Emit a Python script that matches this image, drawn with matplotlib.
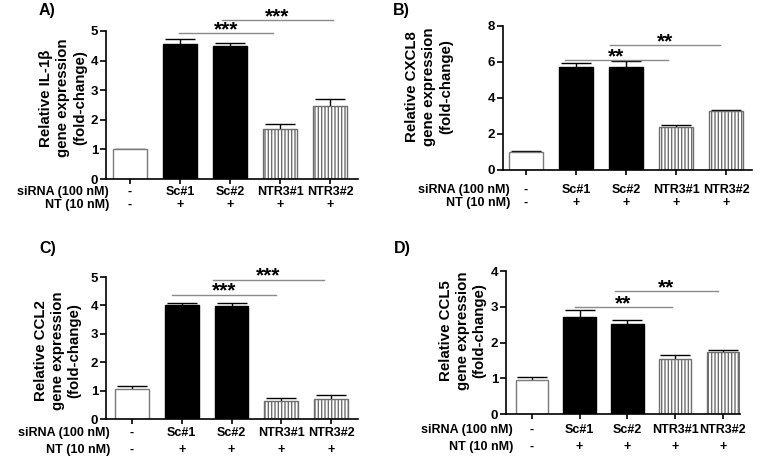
import matplotlib
matplotlib.use("Agg")
import matplotlib.pyplot as plt
import matplotlib.transforms as mtransforms
import numpy as np

plt.rcParams['font.family'] = ['Liberation Sans', 'DejaVu Sans']
plt.rcParams['font.weight'] = 'bold'
plt.rcParams['hatch.linewidth'] = 1.0

# ---------------- data ----------------
sirna_labels = ["-", "Sc#1", "Sc#2", "NTR3#1", "NTR3#2"]
nt_labels = ["-", "+", "+", "+", "+"]
bar_styles = ["open", "solid", "solid", "hatch", "hatch"]

panel_letters = ["A)", "B)", "C)", "D)"]
ylabels = ["Relative IL-1\u03b2\ngene expression\n(fold-change)",
           "Relative CXCL8\ngene expression\n(fold-change)",
           "Relative CCL2\ngene expression\n(fold-change)",
           "Relative CCL5\ngene expression\n(fold-change)"]

il1b_mean = [1.01, 4.56, 4.50, 1.69, 2.47]
il1b_err = [0.02, 0.16, 0.11, 0.16, 0.22]
cxcl8_mean = [1.00, 5.74, 5.74, 2.39, 3.28]
cxcl8_err = [0.03, 0.19, 0.31, 0.09, 0.08]
ccl2_mean = [1.06, 4.01, 3.98, 0.65, 0.70]
ccl2_err = [0.10, 0.08, 0.11, 0.08, 0.16]
ccl5_mean = [0.94, 2.72, 2.53, 1.55, 1.73]
ccl5_err = [0.10, 0.18, 0.11, 0.09, 0.06]

means = [il1b_mean, cxcl8_mean, ccl2_mean, ccl5_mean]
errs = [il1b_err, cxcl8_err, ccl2_err, ccl5_err]
ymax = [5, 8, 5, 4]
ystep = [1, 2, 1, 1]
stars = ["***", "**", "***", "**"]
# significance brackets: (x_start, x_end, y) in data units
sig_lines = [
    [(0.98, 2.86, 4.92), (1.84, 4.06, 5.37)],
    [(0.78, 2.84, 6.10), (1.68, 3.88, 6.96)],
    [(0.80, 2.90, 4.38), (1.62, 3.86, 4.91)],
    [(0.90, 2.93, 3.00), (1.74, 3.90, 3.44)],
]

# ---------------- layout (pixels) ----------------
W, H = 762, 461
# axes box: left, right, top(ymax), bottom(y=0)
boxes = [(106, 358, 31, 179), (503, 752, 26, 170),
         (106, 358, 277, 419), (506, 740, 271, 414)]
xlims = [(-0.48, 4.56), (-0.46, 4.52), (-0.52, 4.54), (-0.54, 4.36)]
row_info = [(109, 192, 205), (510, 190, 203), (110, 433, 450), (513, 430, 447)]
ylab_pos = [(63, 98), (429, 87), (58, 351), (463, 331)]
letter_pos = [(47, 10), (401, 11), (48, 249), (402, 249)]

fig = plt.figure(figsize=(W / 100, H / 100), dpi=100)

for i in range(4):
    l, r, t, b = boxes[i]
    ax = fig.add_axes([l / W, (H - b) / H, (r - l) / W, (b - t) / H])
    x = np.arange(len(sirna_labels))
    m = means[i]
    e = errs[i]
    ax.errorbar(x, m, yerr=e, fmt='none', ecolor='black', elinewidth=1.0,
                capsize=11, capthick=1.0, zorder=1)
    for xi, mi, st in zip(x, m, bar_styles):
        if st == "open":
            ax.bar(xi, mi, width=0.68, facecolor='white', edgecolor='#7a7a7a',
                   linewidth=1.0, zorder=2)
        elif st == "solid":
            ax.bar(xi, mi, width=0.68, facecolor='black', edgecolor='black',
                   linewidth=1.0, zorder=2)
        else:
            ax.bar(xi, mi, width=0.68, facecolor='white', edgecolor='#6e6e6e',
                   hatch='|||||', linewidth=1.0, zorder=2)
    ax.set_xlim(*xlims[i])
    ax.set_ylim(0, ymax[i])
    ax.set_yticks(np.arange(0, ymax[i] + 0.01, ystep[i]))
    ax.set_xticks(x)
    ax.set_xticklabels([])
    ax.spines['top'].set_visible(False)
    ax.spines['right'].set_visible(False)
    ax.spines['left'].set_linewidth(1.2)
    ax.spines['bottom'].set_linewidth(1.2)
    ax.tick_params(axis='y', direction='out', length=4, width=1.2,
                   labelsize=9.5, pad=1.5)
    ax.tick_params(axis='x', direction='out', length=3.5, width=1.2)
    for lab in ax.get_yticklabels():
        lab.set_fontweight('bold')

    # significance
    for (x0, x1, yy) in sig_lines[i]:
        ax.plot([x0, x1], [yy, yy], color='#8a8a8a', lw=1.0, clip_on=False,
                zorder=3)
        ax.annotate(stars[i], xy=((x0 + x1) / 2, yy), xytext=(0, -4.5),
                    textcoords='offset points', ha='center', va='bottom',
                    fontsize=15, fontweight='bold', annotation_clip=False)

    # bottom rows
    tr = mtransforms.blended_transform_factory(ax.transData, fig.transFigure)
    rx, y1, y2 = row_info[i]
    for xi, s1, s2 in zip(x, sirna_labels, nt_labels):
        ax.text(xi, (H - y1) / H, s1, transform=tr, ha='center', va='center',
                fontsize=9, fontweight='bold')
        ax.text(xi, (H - y2) / H, s2, transform=tr, ha='center', va='center',
                fontsize=9, fontweight='bold')
    fig.text(rx / W, (H - y1) / H, "siRNA (100 nM)", ha='right', va='center',
             fontsize=9, fontweight='bold')
    fig.text(rx / W, (H - y2) / H, "NT (10 nM)", ha='right', va='center',
             fontsize=9, fontweight='bold')

    # y label
    lx, ly = ylab_pos[i]
    fig.text(lx / W, (H - ly) / H, ylabels[i], rotation=90, ha='center',
             va='center', multialignment='center', fontsize=10.8,
             fontweight='bold', linespacing=1.25)

    # panel letter
    px, py = letter_pos[i]
    fig.text(px / W, (H - py) / H, panel_letters[i], ha='center', va='center',
             fontsize=11.5, fontweight='bold')

fig.savefig("out.png", dpi=100)
